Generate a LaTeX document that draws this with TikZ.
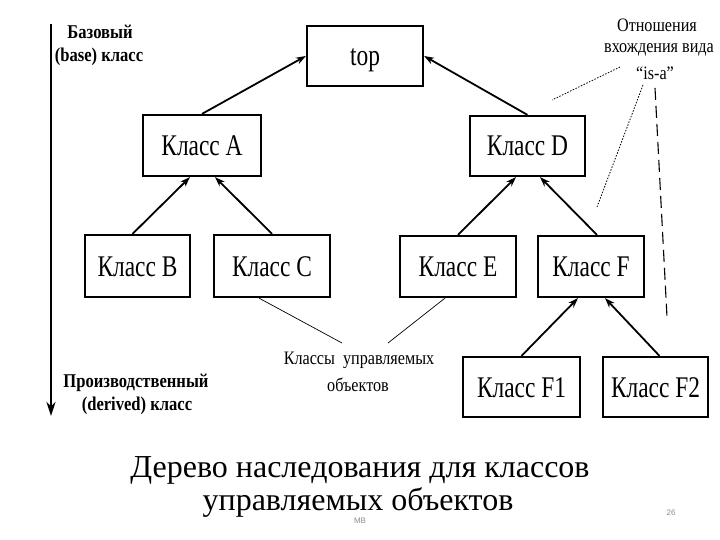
\documentclass[tikz,border=0pt]{standalone}
\usepackage{fontspec}
\setmainfont{Liberation Serif}
\newfontfamily\titlefont{Liberation Serif}
\newfontfamily\condfont[FakeStretch=0.78]{Liberation Serif}
\newfontfamily\labfont[FakeStretch=0.85]{Liberation Serif}
\newfontfamily\smallsans{Liberation Sans}
\usetikzlibrary{arrows.meta}
\begin{document}
\begin{tikzpicture}[x=1pt,y=-1pt,
  cls/.style={draw=black,line width=2.2pt,inner sep=0pt,text height=20pt,text depth=0pt,font=\condfont\fontsize{30}{33}\selectfont},
  inh/.style={line width=1.8pt,-{Stealth[length=10pt,width=7pt]}},
  lab/.style={inner sep=0pt,font=\labfont\bfseries\fontsize{19.5}{22}\selectfont},
  note/.style={inner sep=0pt,font=\labfont\fontsize{19}{22}\selectfont},
  thinl/.style={line width=0.7pt},
  dotl/.style={line width=0.8pt,dash pattern=on 1.5pt off 1.5pt},
  title/.style={inner sep=0pt,anchor=base,font=\titlefont\fontsize{32}{35}\selectfont}]
\useasboundingbox (0,0) rectangle (720,540);
% boxes
\node[cls,minimum width=116pt,minimum height=60pt] (top) at (365,56) {top};
\node[cls,minimum width=118pt,minimum height=61pt] (A) at (202,145.5) {Класс A};
\node[cls,minimum width=105pt,minimum height=62pt] (B) at (137.5,266) {Класс B};
\node[cls,minimum width=116pt,minimum height=62pt] (C) at (272,266) {Класс C};
\node[cls,minimum width=115pt,minimum height=60pt] (D) at (527.5,146) {Класс D};
\node[cls,minimum width=116pt,minimum height=61pt] (E) at (458,266.5) {Класс E};
\node[cls,minimum width=106pt,minimum height=61pt] (F) at (591,266.5) {Класс F};
\node[cls,minimum width=117pt,minimum height=60pt] (F1) at (521.5,387) {Класс F1};
\node[cls,minimum width=105pt,minimum height=60pt] (F2) at (655.5,387) {Класс F2};
% inheritance arrows
\draw[inh] (A.north) -- (top.west);
\draw[inh] (D.north) -- (top.east);
\draw[inh] ([xshift=-5pt]B.north) -- ([xshift=-12pt]A.south);
\draw[inh] (C.north) -- ([xshift=13pt]A.south);
\draw[inh] (E.north) -- ([xshift=-11.5pt]D.south);
\draw[inh] ([xshift=6pt]F.north) -- ([xshift=12.5pt]D.south);
\draw[inh] (F1.north) -- ([xshift=-13pt]F.south);
\draw[inh] ([xshift=4pt]F2.north) -- ([xshift=14pt]F.south);
% left axis
\coordinate (axtop) at (51,24);
\coordinate (axbot) at (51,416);
\draw[line width=2.6pt,-{Stealth[length=14pt,width=9pt]}] (axtop) -- (axbot);
\node[lab] (base1) at (100,32) {Базовый};
\node[lab] (base2) at (99,57) {(base) класс};
\node[lab] (der1) at (136,383) {Производственный};
\node[lab] (der2) at (137,406) {(derived) класс};
% managed classes note
\node[note] (mc1) at (359,360) {Классы\ \ управляемых};
\node[note] (mc2) at (358,385) {объектов};
\coordinate (mcl) at (342,343);
\coordinate (mcr) at (388,343);
\draw[thinl] ([xshift=-13pt]C.south) -- (mcl);
\draw[thinl] ([xshift=-13pt]E.south) -- (mcr);
% is-a note
\node[note] (isa1) at (657,25) {Отношения};
\node[note] (isa2) at (659,50) {вхождения вида};
\node[note] (isa3) at (655,73) {“is-a”};
\coordinate (p1s) at (620,67);
\coordinate (p1e) at (552,100);
\coordinate (p2s) at (643,85);
\coordinate (p2e) at (597,207);
\coordinate (p3s) at (655,88);
\coordinate (p3e) at (667,317);
\draw[dotl] (p1s) -- (p1e);
\draw[dotl] (p2s) -- (p2e);
\draw[line width=1.1pt,dash pattern=on 12pt off 6pt] (p3s) -- (p3e);
% title
\node[title] (t1) at (360,477) {Дерево наследования для классов};
\node[title] (t2) at (358,510) {управляемых объектов};
\node[inner sep=0pt,text=black!45,font=\smallsans\fontsize{8}{9}\selectfont] (mb) at (360,521) {МВ};
\node[inner sep=0pt,text=black!45,font=\smallsans\fontsize{8}{9}\selectfont] (pg) at (671,513) {26};
\end{tikzpicture}
\end{document}
